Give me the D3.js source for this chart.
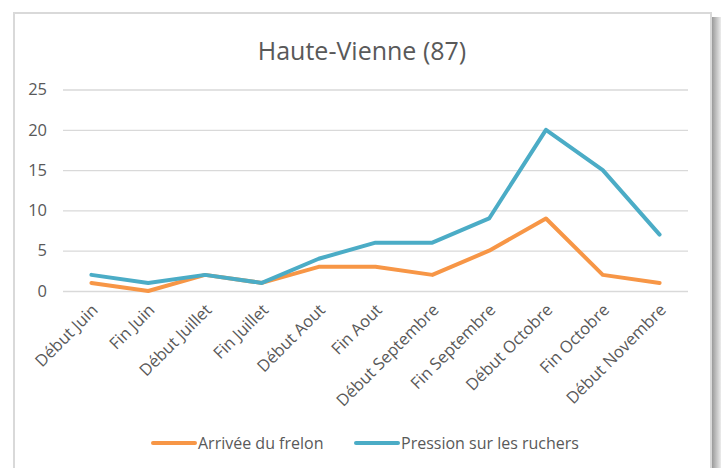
<!DOCTYPE html>
<html>
<head>
<meta charset="utf-8">
<script src="https://cdn.jsdelivr.net/npm/d3@7"></script>
<style>
  body { margin: 0; background: #fff; }
  svg { display: block; }
  .tick text { fill: #595959; }
</style>
</head>
<body>
<div id="chart"></div>
<script>
// categories (x axis)
var periods = ['Début Juin', 'Fin Juin', 'Début Juillet', 'Fin Juillet', 'Début Aout', 'Fin Aout',
    'Début Septembre', 'Fin Septembre', 'Début Octobre', 'Fin Octobre', 'Début Novembre'];

// series values
var arrivee = [1, 0, 2, 1, 3, 3, 2, 5, 9, 2, 1];
var pression = [2, 1, 2, 1, 4, 6, 6, 9, 20, 15, 7];

var seriesNames = ['Arrivée du frelon', 'Pression sur les ruchers'];
var yTicks = [0, 5, 10, 15, 20, 25];

var svgWidth = 721;
var svgHeight = 468;
var font = '"Open Sans", "Noto Sans", sans-serif';

var margin = {top: 89.5, left: 63, right: 33, bottom: 177};
var width = svgWidth - margin.left - margin.right;
var height = 291 - margin.top;

var svg = d3.select('#chart')
    .append('svg')
    .attr('width', svgWidth)
    .attr('height', svgHeight);

// shadow on the right of the frame
var defs = svg.append('defs');
var grad = defs.append('linearGradient').attr('id', 'shadow').attr('x1', 0).attr('x2', 1).attr('y1', 0).attr('y2', 0);
grad.append('stop').attr('offset', 0).attr('stop-color', '#9a9a9a');
grad.append('stop').attr('offset', 1).attr('stop-color', '#ececec');

svg.append('rect')
    .attr('x', 712).attr('y', 17)
    .attr('width', 9).attr('height', svgHeight)
    .attr('fill', 'url(#shadow)');

svg.append('rect')
    .attr('x', 14).attr('y', 13)
    .attr('width', 697).attr('height', svgHeight + 20)
    .attr('fill', '#fff')
    .attr('stroke', '#d9d9d9')
    .attr('stroke-width', 2);

svg.append('text')
    .attr('x', 362)
    .attr('y', 60)
    .attr('text-anchor', 'middle')
    .style('font-family', font)
    .style('font-size', '25px')
    .style('fill', '#595959')
    .text('Haute-Vienne (87)');

var chartGroup = svg.append('g')
    .attr('transform', `translate(${margin.left}, ${margin.top})`);

var xScale = d3.scalePoint()
    .domain(periods)
    .range([0, width])
    .padding(0.5);

var yScale = d3.scaleLinear()
    .domain([0, 25])
    .range([height, 0]);

var yAxis = d3.axisLeft(yScale).tickValues(yTicks).tickSize(-width).tickPadding(16);

chartGroup.append('g')
    .classed('y-axis', true)
    .call(yAxis)
    .call(g => g.select('.domain').remove())
    .call(g => g.selectAll('.tick line').attr('stroke', '#d9d9d9').attr('stroke-width', 1.3))
    .call(g => g.selectAll('.tick text')
        .style('font-family', font)
        .style('font-size', '16.5px'));

var xAxis = d3.axisBottom(xScale).tickSize(0).tickPadding(0);

chartGroup.append('g')
    .classed('x-axis', true)
    .attr('transform', `translate(0, ${height})`)
    .call(xAxis)
    .call(g => g.select('.domain').remove())
    .call(g => g.selectAll('.tick text')
        .attr('text-anchor', 'end')
        .attr('dy', null)
        .attr('y', 0)
        .attr('transform', 'translate(7, 20) rotate(-45)')
        .style('font-family', font)
        .style('font-size', '16.5px'));

var colors = ['#f79646', '#4bacc6'];

var line = d3.line()
    .x((d, i) => xScale(periods[i]))
    .y(d => yScale(d));

chartGroup.selectAll('.series')
    .data([arrivee, pression])
    .enter()
    .append('path')
    .attr('class', 'series')
    .attr('d', line)
    .attr('fill', 'none')
    .attr('stroke', (d, i) => colors[i])
    .attr('stroke-width', 4)
    .attr('stroke-linejoin', 'round')
    .attr('stroke-linecap', 'round');

// legend
var legendX = [153, 356];
var legend = svg.selectAll('.legend')
    .data(seriesNames)
    .enter()
    .append('g')
    .attr('class', 'legend')
    .attr('transform', (d, i) => `translate(${legendX[i]}, 443)`);

legend.append('line')
    .attr('x1', 0).attr('x2', 42)
    .attr('stroke', (d, i) => colors[i])
    .attr('stroke-width', 4)
    .attr('stroke-linecap', 'round');

legend.append('text')
    .attr('x', 45)
    .attr('y', 5.5)
    .style('font-family', font)
    .style('font-size', '16px')
    .style('fill', '#595959')
    .text(d => d);
</script>
</body>
</html>
